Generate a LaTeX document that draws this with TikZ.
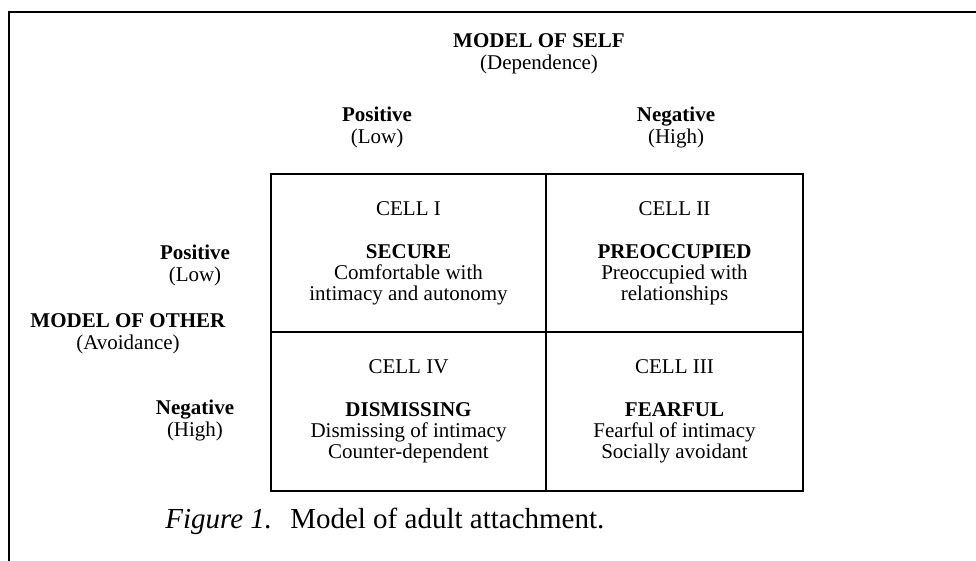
\documentclass[tikz,border=0pt]{standalone}
\usepackage{fontspec}
\setmainfont{Liberation Serif}
\usetikzlibrary{positioning}

\begin{document}
\begin{tikzpicture}[x=0.5pt,y=-0.5pt,
    cell/.style={draw, line width=0.8pt, inner sep=0pt, align=center, font=\fontsize{10.5}{10.5}\selectfont},
    head/.style={align=center, font=\fontsize{10.5}{11}\selectfont}]
		\useasboundingbox (0,0) rectangle (976,561);
		% open frame round the figure
		\draw[line width=1pt] (9,561) -- (9,12) -- (976,12);
		% heading over the columns
		\node[head] (self) at (539,54) {\textbf{MODEL OF SELF}\\(Dependence)};
		\node[head] (colpos) at (377,127) {\textbf{Positive}\\(Low)};
		\node[head] (colneg) at (676,127) {\textbf{Negative}\\(High)};
		% the four cells
		\node[cell, minimum width=137.5pt, minimum height=79pt] (cellI) at (408.5,253)
			{CELL I\\[11pt]\textbf{SECURE}\\Comfortable with\\intimacy and autonomy};
		\node[cell, minimum width=128.5pt, minimum height=79pt] (cellII) at (674.5,253)
			{CELL II\\[11pt]\textbf{PREOCCUPIED}\\Preoccupied with\\relationships};
		\node[cell, minimum width=137.5pt, minimum height=79.5pt] (cellIV) at (408.5,411.75)
			{CELL IV\\[11pt]\textbf{DISMISSING}\\Dismissing of intimacy\\Counter-dependent};
		\node[cell, minimum width=128.5pt, minimum height=79.5pt] (cellIII) at (674.5,411.75)
			{CELL III\\[11pt]\textbf{FEARFUL}\\Fearful of intimacy\\Socially avoidant};
		% heading beside the rows
		\node[head] (rowpos) at (195,265) {\textbf{Positive}\\(Low)};
		\node[head] (other) at (128,334) {\textbf{MODEL OF OTHER}\\(Avoidance)};
		\node[head] (rowneg) at (195,420) {\textbf{Negative}\\(High)};
		% caption
		\node[anchor=west, inner sep=0pt, font=\fontsize{14.5}{15}\selectfont] (caption) at (165,521)
			{\textit{Figure 1.}\hspace{9pt}Model of adult attachment.};
\end{tikzpicture}
\end{document}
